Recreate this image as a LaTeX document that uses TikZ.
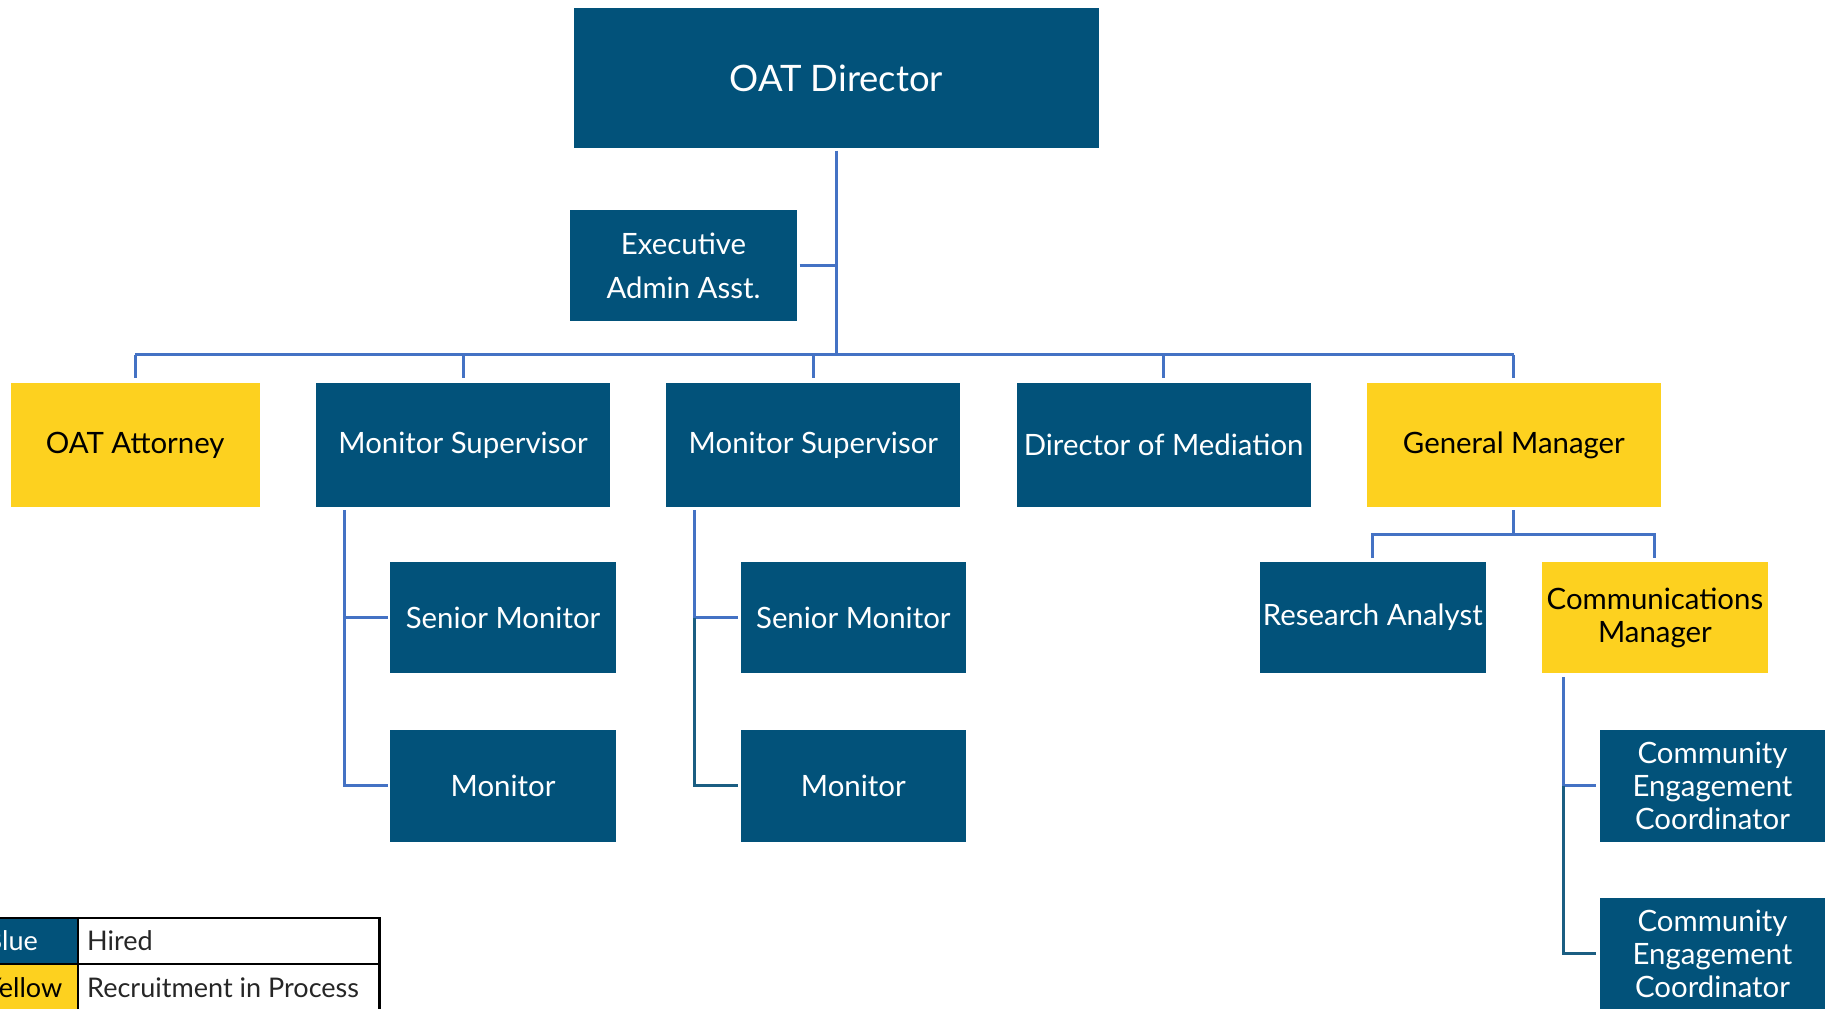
\documentclass[tikz,border=0pt]{standalone}
\usepackage{fontspec}
\setmainfont{Lato}
\definecolor{oblue}{HTML}{02527A}
\definecolor{oyel}{HTML}{FDD11F}
\definecolor{lblue}{HTML}{4472C4}
\definecolor{dline}{HTML}{1B5E82}
\begin{document}
\begin{tikzpicture}[x=1pt,y=-1pt,
  box/.style={rectangle, inner sep=0pt, align=center, font=\fontsize{25}{28}\selectfont},
  hired/.style={box, fill=oblue, text=white},
  recr/.style={box, fill=oyel, text=black},
  wide/.style={minimum width=250, minimum height=105},
  small/.style={minimum width=192, minimum height=95},
  conn/.style={draw=lblue, line width=2.5pt},
  dconn/.style={draw=dline, line width=2.5pt},
  legtext/.style={inner sep=0pt, anchor=base west, font=\fontsize{23}{26}\selectfont}]
\useasboundingbox (0,0) rectangle (1568,858);
\clip (0,0) rectangle (1568,858);

% nodes
\node[hired, minimum width=447, minimum height=119, font=\fontsize{31}{34}\selectfont] (dir) at (711.5,66.5) {OAT Director};
\node[hired, minimum width=193, minimum height=94, font=\fontsize{25}{37}\selectfont] (exec) at (581.5,226) {Executive\\Admin Asst.};

\node[recr, minimum width=212, minimum height=105] (att) at (115,378.5) {OAT Attorney};
\node[hired, wide] (ms1) at (394,378.5) {Monitor Supervisor};
\node[hired, wide] (ms2) at (692,378.5) {Monitor Supervisor};
\node[hired, wide] (dom) at (990,378.5) {Director of Mediation};
\node[recr, wide] (gm) at (1288,378.5) {General Manager};

\node[hired, small] (sm1) at (428,525.5) {Senior Monitor};
\node[hired, small] (mo1) at (428,668.5) {Monitor};
\node[hired, small] (sm2) at (726,525.5) {Senior Monitor};
\node[hired, small] (mo2) at (726,668.5) {Monitor};

\node[hired, small] (ra) at (1168,525.5) {Research Analyst};
\node[recr, small] (cm) at (1408,525.5) {Communications\\Manager};
\node[hired, small] (cec1) at (1457,668.5) {Community\\Engagement\\Coordinator};
\node[hired, small] (cec2) at (1457,811.5) {Community\\Engagement\\Coordinator};

% top connectors
\coordinate (bus) at (0,302);
\draw[conn] ([yshift=-2pt]dir.south) -- (dir.south |- bus);
\draw[conn] ([xshift=2pt]exec.east) -- (exec.east -| dir.south);
\draw[conn] (att.north |- bus) -- (gm.north |- bus);
\foreach \n in {att,ms1,ms2,dom,gm}
  \draw[conn] (\n.north |- bus) -- ([yshift=4pt]\n.north);

% monitor supervisor 1
\coordinate (t1) at ([xshift=24pt]ms1.south west);
\draw[conn] ([yshift=-3pt]t1) |- ([xshift=-2pt]mo1.west);
\draw[conn] (t1 |- sm1.west) -- ([xshift=-2pt]sm1.west);

% monitor supervisor 2
\coordinate (t2) at ([xshift=24pt]ms2.south west);
\draw[conn] ([yshift=-3pt]t2) -- (t2 |- sm2.west) -- ([xshift=-2pt]sm2.west);
\draw[dconn] (t2 |- sm2.west) |- ([xshift=-2pt]mo2.west);

% general manager
\coordinate (gbus) at (0,455);
\draw[conn] ([yshift=-3pt]gm.south) -- (gm.south |- gbus);
\draw[conn] ([yshift=3pt]ra.north) -- (ra.north |- gbus) -- (cm.north |- gbus) -- ([yshift=3pt]cm.north);

% communications manager
\coordinate (t3) at ([xshift=18pt]cm.south west);
\draw[conn] ([yshift=-3pt]t3) -- (t3 |- cec1.west) -- ([xshift=-3pt]cec1.west);
\draw[dconn] (t3 |- cec1.west) |- ([xshift=-3pt]cec2.west);

% legend
\node[fill=oblue, inner sep=0pt, minimum width=96, minimum height=40, anchor=north west] (lb) at (-30,780) {};
\node[fill=oyel, inner sep=0pt, minimum width=96, minimum height=42, anchor=north west] (ly) at (-30,820) {};
\node[draw=black, line width=2pt, inner sep=0pt, minimum width=352, minimum height=82, anchor=north west] (ltab) at (-30,780) {};
\draw[black, line width=2pt] (lb.north east) -- (ly.south east);
\draw[black, line width=2pt] (lb.south west) -- (lb.south west -| ltab.east);
\node[legtext, text=white] (tb) at (-13,809) {Blue};
\node[legtext, text=black] (ty) at (-13,849) {Yellow};
\node[legtext, text=black!85] (th) at (74,809) {Hired};
\node[legtext, text=black!85] (tr) at (74,849) {Recruitment in Process};
\end{tikzpicture}
\end{document}
